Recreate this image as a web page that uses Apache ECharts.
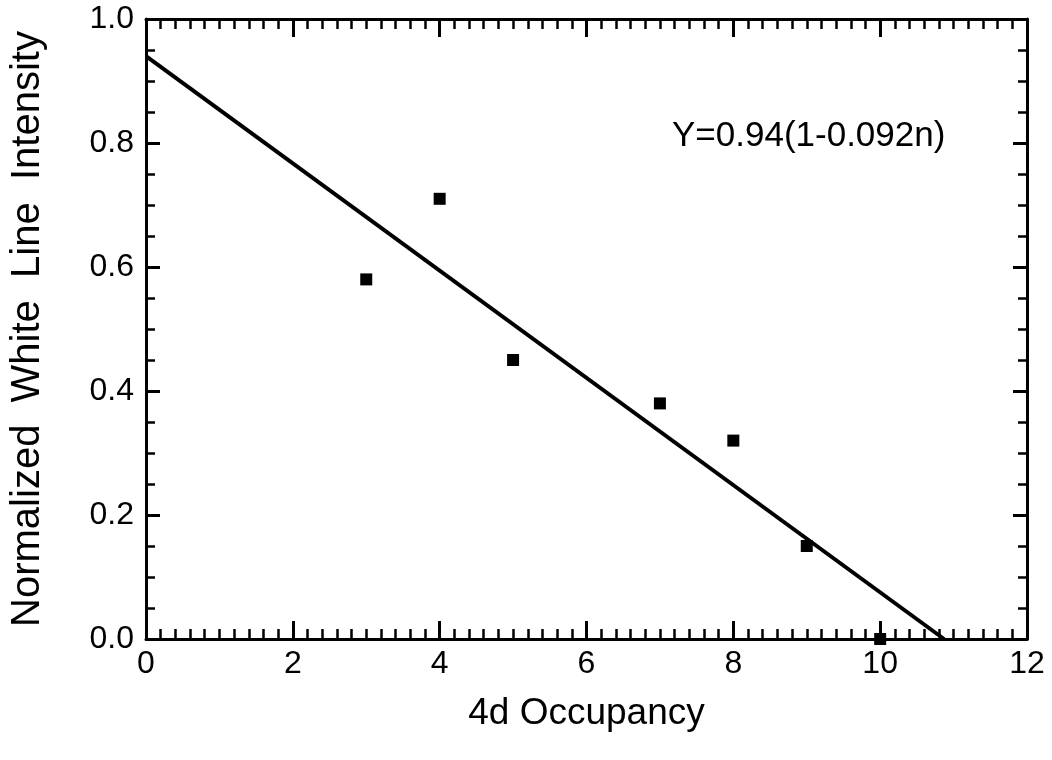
<!DOCTYPE html>
<html>
<head>
<meta charset="utf-8">
<script src="https://cdn.jsdelivr.net/npm/echarts@6/dist/echarts.min.js"></script>
<style>
  html, body { margin: 0; padding: 0; background: #fff; }
  #main { width: 1052px; height: 760px; }
</style>
</head>
<body>
<div id="main"></div>
<script>
// 4d occupancy vs normalized white line intensity
var occupancy = [3, 4, 5, 7, 8, 9, 10];
var intensity = [0.58, 0.71, 0.45, 0.38, 0.32, 0.15, 0.0];

// fitted line end points, Y=0.94(1-0.092n)
var fitX = [0, 10.87];
var fitY = [0.94, 0];

var fitText = 'Y=0.94(1-0.092n)';

var font = 'Liberation Sans, Arial, Helvetica, sans-serif';

var chart = echarts.init(document.getElementById('main'), null, { renderer: 'canvas' });

var axisLine = { show: true, onZero: false, lineStyle: { color: '#000', width: 3 } };

function xAxisOpt(pos, withLabels) {
  return {
    type: 'value',
    position: pos,
    min: 0,
    max: 12,
    interval: 2,
    name: withLabels ? '4d Occupancy' : '',
    nameLocation: 'middle',
    nameGap: 56,
    nameTextStyle: { fontFamily: font, fontSize: 37, color: '#000' },
    axisLine: axisLine,
    axisTick: { show: true, inside: true, length: 18, lineStyle: { color: '#000', width: 3 } },
    minorTick: { show: true, splitNumber: 10, length: 10, lineStyle: { color: '#000', width: 2.5 } },
    axisLabel: { show: withLabels, fontFamily: font, fontSize: 32, color: '#000', margin: 9 },
    splitLine: { show: false }
  };
}

function yAxisOpt(pos, withLabels) {
  return {
    type: 'value',
    position: pos,
    min: 0,
    max: 1,
    interval: 0.2,
    name: withLabels ? 'Normalized  White  Line  Intensity' : '',
    nameLocation: 'middle',
    nameGap: 98,
    nameTextStyle: { fontFamily: font, fontSize: 40, color: '#000' },
    axisLine: axisLine,
    axisTick: { show: true, inside: true, length: 14, lineStyle: { color: '#000', width: 3 } },
    minorTick: { show: true, splitNumber: 4, length: 9, lineStyle: { color: '#000', width: 2.5 } },
    axisLabel: {
      show: withLabels, fontFamily: font, fontSize: 32, color: '#000', margin: 12,
      formatter: function (v) { return v.toFixed(1); }
    },
    splitLine: { show: false }
  };
}

var pts = occupancy.map(function (x, i) { return [x, intensity[i]]; });
var fit = fitX.map(function (x, i) { return [x, fitY[i]]; });

var option = {
  backgroundColor: '#fff',
  animation: false,
  grid: { left: 144, right: 25, top: 19, bottom: 121, containLabel: false },
  xAxis: [xAxisOpt('bottom', true), xAxisOpt('top', false)],
  yAxis: [yAxisOpt('left', true), yAxisOpt('right', false)],
  graphic: [{
    type: 'text',
    left: 672,
    top: 119,
    style: { text: fitText, font: '35px ' + font, fill: '#000' }
  }],
  series: [
    {
      type: 'line',
      data: fit,
      symbol: 'none',
      lineStyle: { color: '#000', width: 4 },
      z: 3
    },
    {
      type: 'scatter',
      data: pts,
      symbol: 'rect',
      symbolSize: 12,
      itemStyle: { color: '#000', opacity: 1 },
      z: 4
    }
  ]
};

chart.setOption(option);
</script>
</body>
</html>
